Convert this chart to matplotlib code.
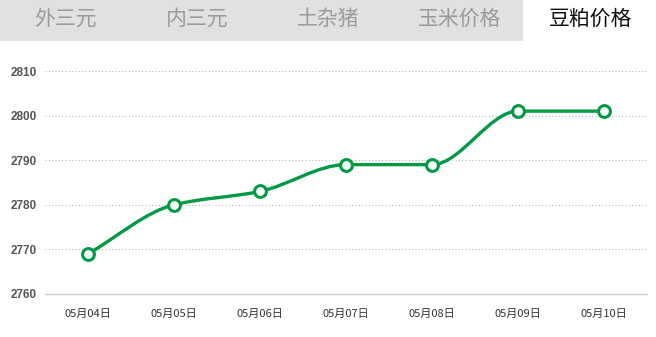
import numpy as np
import matplotlib.pyplot as plt
from matplotlib.path import Path
from matplotlib.patches import PathPatch, Rectangle

plt.rcParams['font.family'] = ['Noto Sans CJK SC', 'DejaVu Sans']

# 数据
tabs = ['外三元', '内三元', '土杂猪', '玉米价格', '豆粕价格']
active_tab = 4
dates = ['05月04日', '05月05日', '05月06日', '05月07日', '05月08日', '05月09日', '05月10日']
prices = [2769, 2780, 2783, 2789, 2789, 2801, 2801]
yticks = [2760, 2770, 2780, 2790, 2800, 2810]

W, H = 656, 337
green = '#009a44'

fig = plt.figure(figsize=(W / 100, H / 100), dpi=100)
fig.patch.set_facecolor('white')

# 顶部选项卡
tab_h = 41
tab_w = W / len(tabs)
fig.patches.append(Rectangle((0, 1 - tab_h / H), 1, tab_h / H, transform=fig.transFigure,
                             facecolor='#e1e1e1', edgecolor='none', zorder=0))
act_x0 = 523
fig.patches.append(Rectangle((act_x0 / W, 1 - tab_h / H), 1 - act_x0 / W, tab_h / H,
                             transform=fig.transFigure, facecolor='white',
                             edgecolor='none', zorder=1))
for i, t in enumerate(tabs):
    cx = tab_w * i + tab_w / 2
    fig.text(cx / W, 1 - 19 / H, t, ha='center', va='center', fontsize=15,
             color='#111111' if i == active_tab else '#9a9a9a', zorder=2)

# 折线图
left, right = 45, 647
bottom, top = 294, 71
ax = fig.add_axes([left / W, (H - bottom) / H, (right - left) / W, (bottom - top) / H])
x = np.arange(len(dates))
ax.set_xlim(-0.5, len(dates) - 0.5)
ax.set_ylim(yticks[0], yticks[-1])

for s in ['top', 'right', 'left']:
    ax.spines[s].set_visible(False)
ax.spines['bottom'].set_color('#cccccc')
ax.spines['bottom'].set_linewidth(1)

ax.set_yticks(yticks)
ax.yaxis.grid(True, linestyle=(0, (1, 2)), color='#bbbbbb', linewidth=0.8)
ax.set_axisbelow(True)
ax.tick_params(axis='y', length=0, pad=6, labelsize=8.5, labelcolor='#555555')
for lb in ax.get_yticklabels():
    lb.set_fontweight('bold')
    lb.set_family(['Liberation Sans', 'DejaVu Sans'])

ax.set_xticks(x)
ax.set_xticklabels(dates)
ax.tick_params(axis='x', length=0, pad=11, labelsize=8, labelcolor='#333333')

# 平滑曲线（单调三次贝塞尔）
y = np.array(prices, dtype=float)
d = np.diff(y)
m = np.zeros_like(y)
m[0], m[-1] = d[0], d[-1]
for i in range(1, len(y) - 1):
    if d[i - 1] * d[i] <= 0:
        m[i] = 0
    else:
        m[i] = 2 / (1 / d[i - 1] + 1 / d[i])
verts = [(x[0], y[0])]
codes = [Path.MOVETO]
for i in range(len(y) - 1):
    verts += [(x[i] + 1 / 3, y[i] + m[i] / 3),
              (x[i + 1] - 1 / 3, y[i + 1] - m[i + 1] / 3),
              (x[i + 1], y[i + 1])]
    codes += [Path.CURVE4] * 3
ax.add_patch(PathPatch(Path(verts, codes), facecolor='none', edgecolor=green,
                       linewidth=2.4, capstyle='round', joinstyle='round', zorder=3))
ax.plot(x, y, linestyle='none', marker='o', markersize=8.5, markerfacecolor='white',
        markeredgecolor=green, markeredgewidth=2.2, zorder=4, clip_on=False)

fig.savefig('out.png', dpi=100)
